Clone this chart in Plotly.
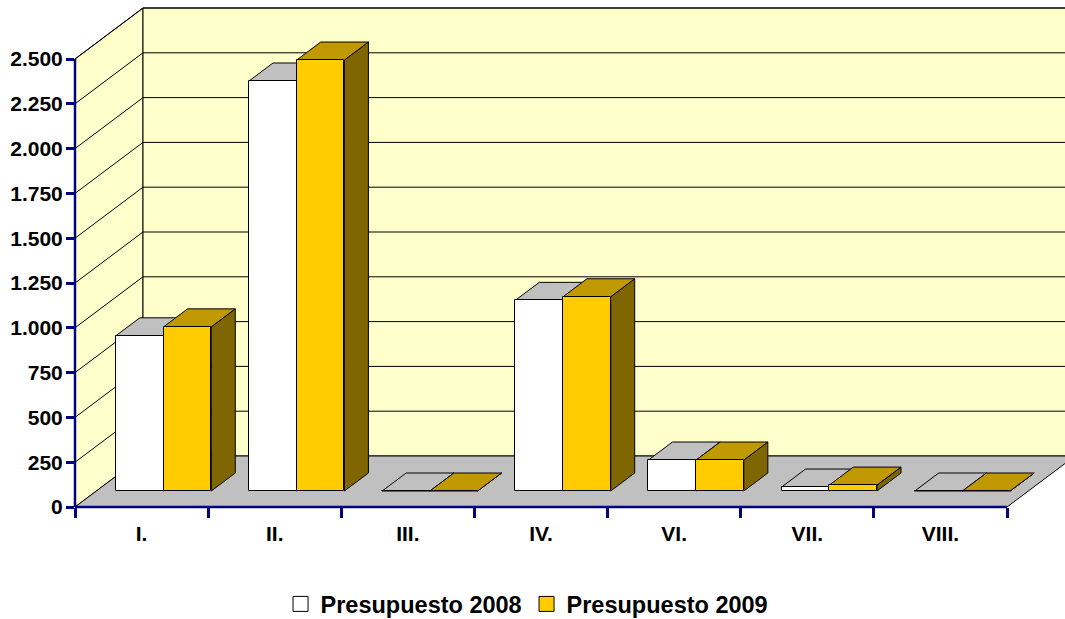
import plotly.graph_objects as go

categories = ["I.", "II.", "III.", "IV.", "VI.", "VII.", "VIII."]
presupuesto_2008 = [866, 2288, 0, 1064, 173, 22, 0]
presupuesto_2009 = [916, 2405, 0, 1084, 173, 33, 0]
y_ticks = [0, 250, 500, 750, 1000, 1250, 1500, 1750, 2000, 2250, 2500]
y_labels = ["0", "250", "500", "750", "1.000", "1.250", "1.500", "1.750", "2.000", "2.250", "2.500"]
series_names = ["Presupuesto 2008", "Presupuesto 2009"]

W, H = 1065, 619
L, R, T, B = 75, 0, 5, 112
PX_X = (1007 - 75) / 7
PX_Y = 448 / 2500
x_max = (W - L - R) / PX_X
y_max = (H - T - B) / PX_Y

def dx(px):
    return px / PX_X

def dy(px):
    return px / PX_Y

wall_dx, wall_dy = dx(68), dy(51)
front_dx, front_dy = dx(22), dy(16)
bar_dx, bar_dy = dx(24), dy(18)
bar_w = dx(47.7)

WALL, FLOOR = "#FFFFCC", "#C0C0C0"
FACE = ["#FFFFFF", "#FFCC00"]
TOP = ["#C0C0C0", "#C09900"]
SIDE = ["#808080", "#806600"]
NAVY = "#000080"
FONT = "Liberation Sans"

def poly(pts, fill):
    path = "M " + " L ".join(f"{x},{y}" for x, y in pts) + " Z"
    return dict(type="path", path=path, xref="x", yref="y", fillcolor=fill,
                line=dict(color="black", width=1), layer="below")

def seg(x0, y0, x1, y1):
    return dict(type="line", x0=x0, y0=y0, x1=x1, y1=y1, xref="x", yref="y",
                line=dict(color="black", width=1), layer="below")

shapes = [
    poly([(0, 0), (wall_dx, wall_dy), (wall_dx, 2500 + wall_dy), (0, 2500)], WALL),
    poly([(wall_dx, wall_dy), (7 + wall_dx, wall_dy), (7 + wall_dx, 2500 + wall_dy), (wall_dx, 2500 + wall_dy)], WALL),
    poly([(0, 0), (wall_dx, wall_dy), (7 + wall_dx, wall_dy), (7, 0)], FLOOR),
]
for v in y_ticks[1:]:
    shapes.append(seg(0, v, wall_dx, v + wall_dy))
    shapes.append(seg(wall_dx, v + wall_dy, 7 + wall_dx, v + wall_dy))

series = [presupuesto_2008, presupuesto_2009]
for i in range(len(categories)):
    for s, vals in enumerate(series):
        x0 = i + 0.5 + front_dx + (s - 1) * bar_w
        x1 = x0 + bar_w
        top = vals[i] + front_dy
        shapes.append(poly([(x1, front_dy), (x1 + bar_dx, front_dy + bar_dy),
                            (x1 + bar_dx, top + bar_dy), (x1, top)], SIDE[s]))
        shapes.append(poly([(x0, top), (x1, top), (x1 + bar_dx, top + bar_dy),
                            (x0 + bar_dx, top + bar_dy)], TOP[s]))

# axis lines: drawn only over the labelled span, above the traces
shapes.append(dict(type="line", xref="paper", yref="y", x0=0, x1=0, y0=0, y1=2500,
                   line=dict(color=NAVY, width=2.5), layer="above"))
shapes.append(dict(type="line", xref="x", yref="paper", x0=0, x1=7, y0=0, y1=0,
                   line=dict(color=NAVY, width=2.5), layer="above"))

fig = go.Figure()
centers = [i + 0.5 for i in range(len(categories))]
for s, vals in enumerate(series):
    fig.add_trace(go.Bar(
        x=[c + front_dx + (s - 0.5) * bar_w for c in centers],
        y=vals, base=front_dy, width=bar_w, name=series_names[s], showlegend=False,
        legendgroup=series_names[s],
        marker=dict(color=FACE[s], line=dict(color="black", width=1)),
        hoverinfo="skip"))
for s, name in enumerate(series_names):
    fig.add_trace(go.Scatter(
        x=[None], y=[None], mode="markers", name=name, legendgroup=name,
        marker=dict(symbol="square", size=15, color=FACE[s], line=dict(color="black", width=1)),
        hoverinfo="skip"))

font = dict(family=FONT, size=21, color="black", weight=700)
fig.update_layout(
    width=W, height=H, margin=dict(l=L, r=R, t=T, b=B),
    paper_bgcolor="white", plot_bgcolor="white",
    barmode="overlay", shapes=shapes, bargap=0,
    showlegend=True,
    legend=dict(orientation="h", xref="container", yref="container", x=0.4944, y=0.024,
                xanchor="center", yanchor="middle",
                font=dict(family=FONT, size=23.5, color="black", weight=700),
                itemwidth=30, entrywidth=201, entrywidthmode="pixels",
                bgcolor="rgba(0,0,0,0)"),
    xaxis=dict(range=[0, x_max], tickmode="array", tickvals=centers, ticktext=categories,
               ticklen=0, tickfont=font, showgrid=False, zeroline=False, showline=False,
               ticklabelstandoff=12,
               minor=dict(tickmode="array", tickvals=list(range(8)), ticks="outside",
                          ticklen=10, tickwidth=2.5, tickcolor=NAVY, showgrid=False)),
    yaxis=dict(range=[0, y_max], tickmode="array", tickvals=y_ticks, ticktext=y_labels,
               ticks="outside", ticklen=8, tickwidth=2.5, tickcolor=NAVY, tickfont=font,
               ticklabelstandoff=-1,
               showgrid=False, zeroline=False, showline=False),
)
fig.write_html("out.html", config={"displayModeBar": False},
               post_script="document.body.style.margin='0';document.body.style.overflow='hidden';")
